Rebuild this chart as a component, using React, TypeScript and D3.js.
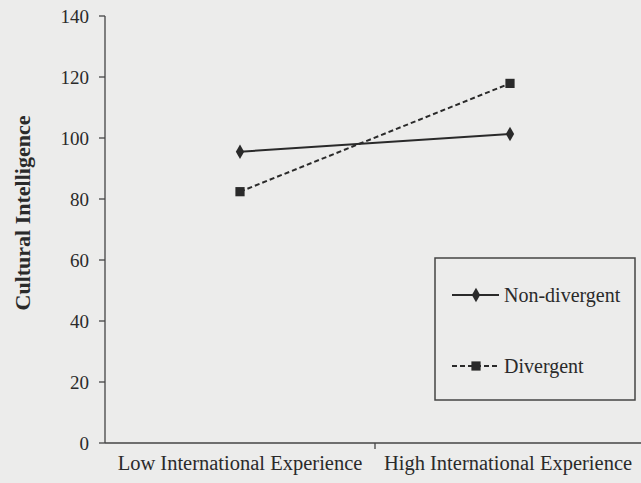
import React from "react";
import * as d3 from "d3";

const categories = ["Low International Experience", "High International Experience"];
const nonDivergent = [95.5, 101.3];
const divergent = [82.4, 117.9];
const yTicks = [0, 20, 40, 60, 80, 100, 120, 140];
const seriesNames = ["Non-divergent", "Divergent"];

const W = 641;
const H = 483;
const FONT = "'Liberation Serif', 'Times New Roman', serif";
const INK = "#2a2a2a";

export default function App() {
  const x = d3.scaleBand<string>().domain(categories).range([105, 645]).padding(0);
  const y = d3.scaleLinear().domain([0, 140]).range([443, 16]);
  const cx = (c: string) => (x(c) as number) + x.bandwidth() / 2;

  const line = d3
    .line<number>()
    .x((_, i) => cx(categories[i]))
    .y((d) => y(d));

  const diamond = d3.symbol().type(d3.symbolDiamond).size(60);
  const square = d3.symbol().type(d3.symbolSquare).size(85);

  return (
    <svg
      width={W}
      height={H}
      style={{ position: "absolute", left: 0, top: 0, background: "#ececeb" }}
      fontFamily={FONT}
    >
      <rect x={0} y={0} width={W} height={H} fill="#ececeb" />
      {/* Y axis */}
      <line x1={105} x2={105} y1={y(140)} y2={y(0)} stroke="#444" strokeWidth={1.3} />
      {yTicks.map((t) => (
        <g key={t}>
          <line x1={99} x2={105} y1={y(t)} y2={y(t)} stroke="#444" strokeWidth={1.3} />
          <text x={89} y={y(t)} dy="0.35em" textAnchor="end" fontSize={19} fill={INK}>
            {t}
          </text>
        </g>
      ))}
      {/* X axis */}
      <line x1={105} x2={645} y1={y(0)} y2={y(0)} stroke="#444" strokeWidth={1.3} />
      {categories.slice(0, -1).map((c) => (
        <line
          key={c}
          x1={(x(c) as number) + x.bandwidth()}
          x2={(x(c) as number) + x.bandwidth()}
          y1={y(0)}
          y2={y(0) + 6}
          stroke="#444"
          strokeWidth={1.3}
        />
      ))}
      {categories.map((c, i) => (
        <text
          key={c}
          x={i === 0 ? cx(c) : Math.min(cx(c), 641 - 4 - 129)}
          y={470}
          textAnchor="middle"
          fontSize={20.5}
          fill={INK}
        >
          {c}
        </text>
      ))}
      {/* Y title */}
      <text
        transform={`translate(30,213) rotate(-90)`}
        textAnchor="middle"
        fontSize={22}
        fontWeight="bold"
        fill={INK}
      >
        Cultural Intelligence
      </text>
      {/* Series */}
      <path d={line(nonDivergent) || ""} fill="none" stroke={INK} strokeWidth={2} />
      <path d={line(divergent) || ""} fill="none" stroke={INK} strokeWidth={2} strokeDasharray="5,3" />
      {nonDivergent.map((v, i) => (
        <path key={"n" + i} d={diamond() || ""} transform={`translate(${cx(categories[i])},${y(v)})`} fill={INK} />
      ))}
      {divergent.map((v, i) => (
        <path key={"d" + i} d={square() || ""} transform={`translate(${cx(categories[i])},${y(v)})`} fill={INK} />
      ))}
      {/* Legend */}
      <rect x={435} y={258} width={200} height={142} fill="none" stroke="#444" strokeWidth={1.5} />
      <g>
        <line x1={452} x2={499} y1={295} y2={295} stroke={INK} strokeWidth={2} />
        <path d={diamond() || ""} transform="translate(476,295)" fill={INK} />
        <text x={504} y={295} dy="0.35em" fontSize={20} fill={INK}>
          {seriesNames[0]}
        </text>
      </g>
      <g>
        <line x1={452} x2={499} y1={366} y2={366} stroke={INK} strokeWidth={2} strokeDasharray="5,3" />
        <path d={square() || ""} transform="translate(476,366)" fill={INK} />
        <text x={504} y={366} dy="0.35em" fontSize={20} fill={INK}>
          {seriesNames[1]}
        </text>
      </g>
    </svg>
  );
}
